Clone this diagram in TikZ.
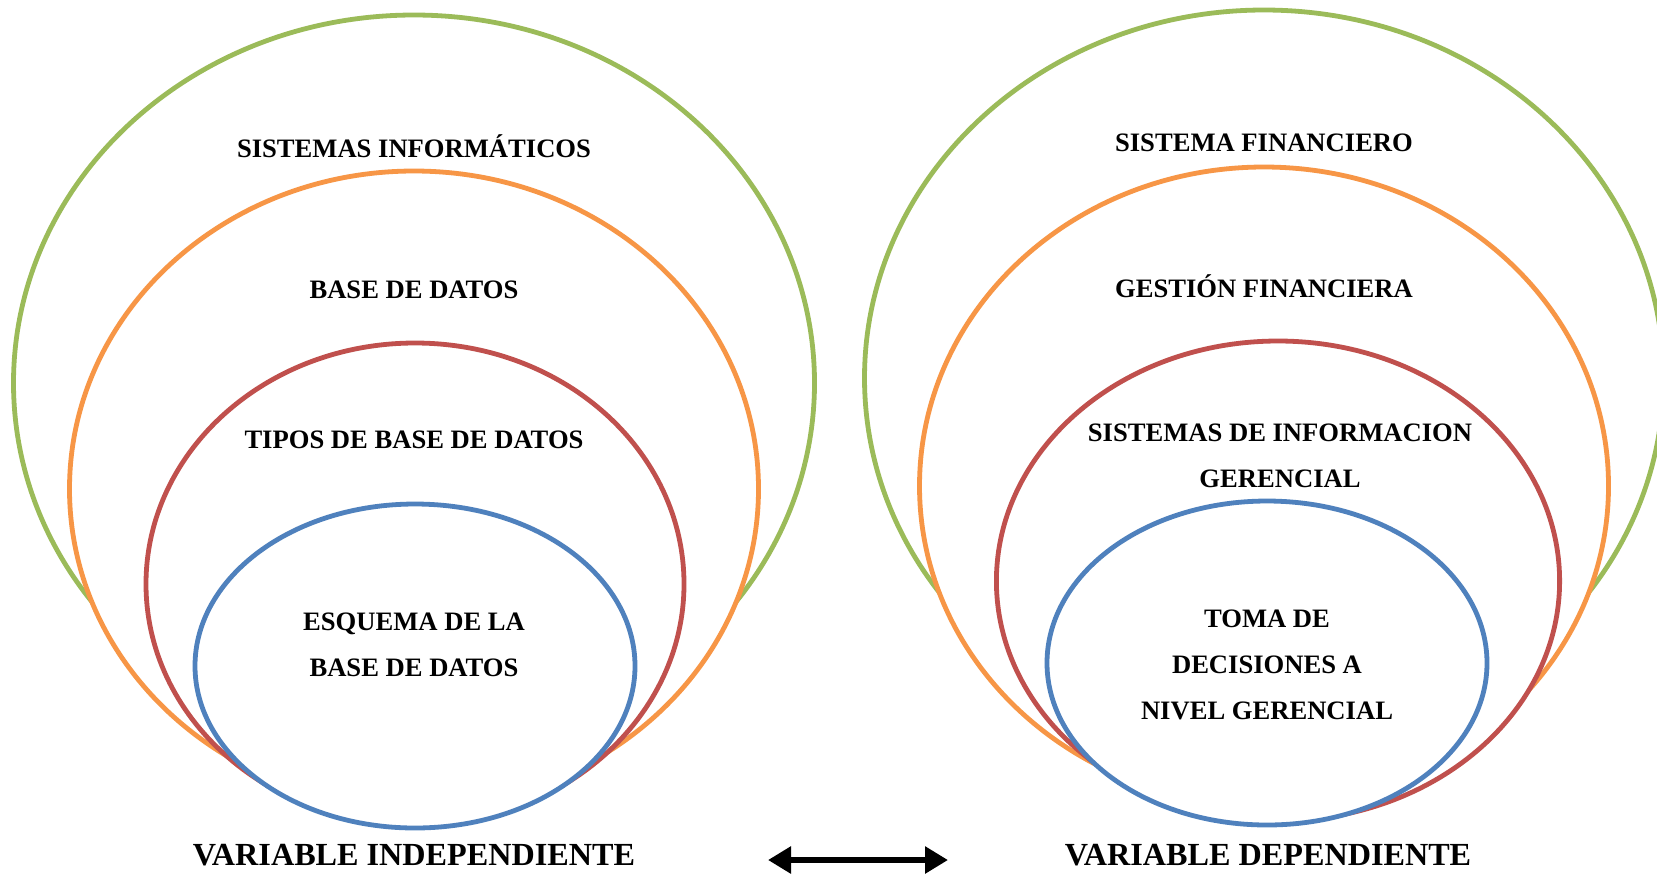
\documentclass[tikz,border=0pt]{standalone}
\usepackage{fontspec}
\setmainfont{Liberation Serif}
\usetikzlibrary{arrows.meta}
\definecolor{ringgreen}{HTML}{9BBB59}
\definecolor{ringorange}{HTML}{F79646}
\definecolor{ringred}{HTML}{C0504D}
\definecolor{ringblue}{HTML}{4F81BD}
\tikzset{
  ring/.style={line width=2.4pt, fill=white, draw=#1},
  label/.style={font=\bfseries\fontsize{13.3}{23}\selectfont, align=center, inner sep=0pt},
  varlabel/.style={font=\bfseries\fontsize{16.1}{19}\selectfont, inner sep=0pt},
  link/.style={line width=3pt, {Triangle[length=11.5pt,width=13pt]}-{Triangle[length=11.5pt,width=13pt]}}
}
\begin{document}
\begin{tikzpicture}[x=0.5pt,y=-0.5pt]
\useasboundingbox (0,0) rectangle (1657,874);
% independent variable: nested rings, outermost first
\path[ring=ringgreen]  (414,383) ellipse [x radius=400.5, y radius=368];
\path[ring=ringorange] (414,489) ellipse [x radius=344.5, y radius=318];
\path[ring=ringred]    (415,584) ellipse [x radius=269, y radius=241];
\path[ring=ringblue]   (415,666) ellipse [x radius=220, y radius=162];
\node[label] (si)  at (414,146) {SISTEMAS INFORMÁTICOS};
\node[label] (bd)  at (414,290) {BASE DE DATOS};
\node[label] (tbd) at (414,440) {TIPOS DE BASE DE DATOS};
\node[label] (ebd) at (414,645) {ESQUEMA DE LA\\BASE DE DATOS};
\node[varlabel] (vi) at (414,855) {VARIABLE INDEPENDIENTE};
% dependent variable: nested rings, outermost first
\path[ring=ringgreen]  (1264,378) ellipse [x radius=399.5, y radius=368];
\path[ring=ringorange] (1264,486) ellipse [x radius=344.5, y radius=319];
\path[ring=ringred]    (1278,581) ellipse [x radius=281.6, y radius=240];
\path[ring=ringblue]   (1267,663) ellipse [x radius=220, y radius=162];
\node[label] (sf)  at (1264,143) {SISTEMA FINANCIERO};
\node[label] (gf)  at (1264,286) {GESTIÓN FINANCIERA};
\node[label] (sig) at (1280,456) {SISTEMAS DE INFORMACION\\GERENCIAL};
\node[label] (td)  at (1267,665) {TOMA DE\\DECISIONES A\\NIVEL GERENCIAL};
\node[varlabel] (vd) at (1268,855) {VARIABLE DEPENDIENTE};
% relation between the two variables
\coordinate (aL) at (768,860);
\coordinate (aR) at (948,860);
\draw[link] (aL) -- (aR);
\end{tikzpicture}
\end{document}
